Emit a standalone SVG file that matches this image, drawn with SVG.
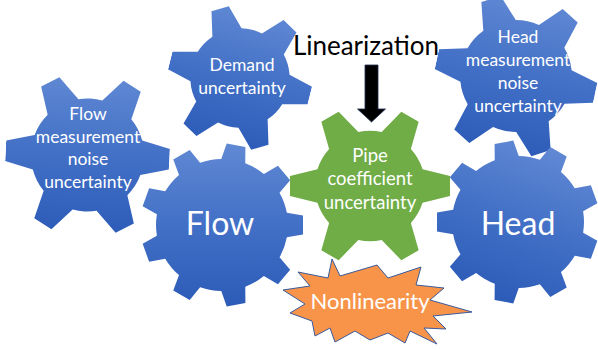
<svg xmlns="http://www.w3.org/2000/svg" xmlns:xlink="http://www.w3.org/1999/xlink" width="598" height="351" viewBox="0 0 598 351">
<style>
text{font-family:Lato,"Open Sans","Liberation Sans",sans-serif;text-anchor:middle;fill:#fff}
.s{font-size:17.5px}
.p{font-size:18.5px}
.b{font-size:32px}
.n{font-size:22px}
.lin{font-size:26px;fill:#000}
</style>
<defs>
<linearGradient id="blue" x1="0" y1="0" x2="0" y2="1">
<stop offset="0" stop-color="#6189d4"/>
<stop offset="0.5" stop-color="#4270c6"/>
<stop offset="1" stop-color="#2c5bb8"/>
</linearGradient>
<polygon id="t6" points="-12.5,-100 12.5,-100 22.5,-60 -22.5,-60"/>
<polygon id="t9" points="-9.5,-81 9.5,-81 13,-60 -13,-60"/>
<clipPath id="g6">
<circle r="69"/>
<use xlink:href="#t6" transform="rotate(30)"/>
<use xlink:href="#t6" transform="rotate(90)"/>
<use xlink:href="#t6" transform="rotate(150)"/>
<use xlink:href="#t6" transform="rotate(210)"/>
<use xlink:href="#t6" transform="rotate(270)"/>
<use xlink:href="#t6" transform="rotate(330)"/>
</clipPath>
<clipPath id="g9">
<circle r="66"/>
<use xlink:href="#t9" transform="rotate(10)"/>
<use xlink:href="#t9" transform="rotate(50)"/>
<use xlink:href="#t9" transform="rotate(90)"/>
<use xlink:href="#t9" transform="rotate(130)"/>
<use xlink:href="#t9" transform="rotate(170)"/>
<use xlink:href="#t9" transform="rotate(210)"/>
<use xlink:href="#t9" transform="rotate(250)"/>
<use xlink:href="#t9" transform="rotate(290)"/>
<use xlink:href="#t9" transform="rotate(330)"/>
</clipPath>
</defs>

<g id="flow-noise">
<g transform="translate(87.5,155) scale(0.82) rotate(3)"><rect x="-100" y="-100" width="200" height="200" fill="url(#blue)" clip-path="url(#g6)"/></g>
<text class="s" x="88" y="120">Flow</text>
<text class="s" x="88" y="143">measurement</text>
<text class="s" x="88" y="165">noise</text>
<text class="s" x="88" y="188">uncertainty</text>
</g>

<g id="demand">
<g transform="translate(240,78) scale(0.72) rotate(14)"><rect x="-100" y="-100" width="200" height="200" fill="url(#blue)" clip-path="url(#g6)"/></g>
<text class="s" x="242" y="71">Demand</text>
<text class="s" x="242" y="94">uncertainty</text>
</g>

<g id="head-noise">
<g transform="translate(516,76) scale(0.81) rotate(12)"><rect x="-100" y="-100" width="200" height="200" fill="url(#blue)" clip-path="url(#g6)"/></g>
<text class="s" x="518" y="43">Head</text>
<text class="s" x="518" y="66">measurement</text>
<text class="s" x="518" y="89">noise</text>
<text class="s" x="518" y="112">uncertainty</text>
</g>

<g id="flow">
<g transform="translate(222,225)"><rect x="-82" y="-82" width="164" height="164" fill="url(#blue)" clip-path="url(#g9)"/></g>
<text class="b" x="220" y="235">Flow</text>
</g>

<g id="head">
<g transform="translate(518,222) rotate(20)"><rect x="-82" y="-82" width="164" height="164" fill="url(#blue)" clip-path="url(#g9)"/></g>
<text class="b" x="518" y="235">Head</text>
</g>

<g id="pipe">
<g transform="translate(370,186) scale(0.8)"><rect x="-100" y="-100" width="200" height="200" fill="#70ad47" clip-path="url(#g6)"/></g>
<text class="p" x="370" y="162">Pipe</text>
<text class="p" x="370" y="185">coefficient</text>
<text class="p" x="370" y="209">uncertainty</text>
</g>

<g id="nonlinearity">
<polygon points="332,259 340,276 377,265 388,278 421,267 416,285 444,288 430,300 472,312 433,316 446,329 424,328 437,344 410,331 405,343 388,333 370,340 355,331 335,342 330,328 315,336 312,321 290,313 305,304 283,290 310,286 298,272 328,278" fill="#f8944a" stroke="#3b5a9a" stroke-width="1" stroke-linejoin="miter"/>
<text class="n" x="370" y="309">Nonlinearity</text>
</g>

<g id="linearization">
<text class="lin" x="366" y="55">Linearization</text>
</g>

<g id="connectors">
<polygon points="365,65 378,65 378,109 385.5,109 371.5,122 357.5,109 365,109" fill="#000" stroke="#1f2f52" stroke-width="0.8"/>
</g>
</svg>
